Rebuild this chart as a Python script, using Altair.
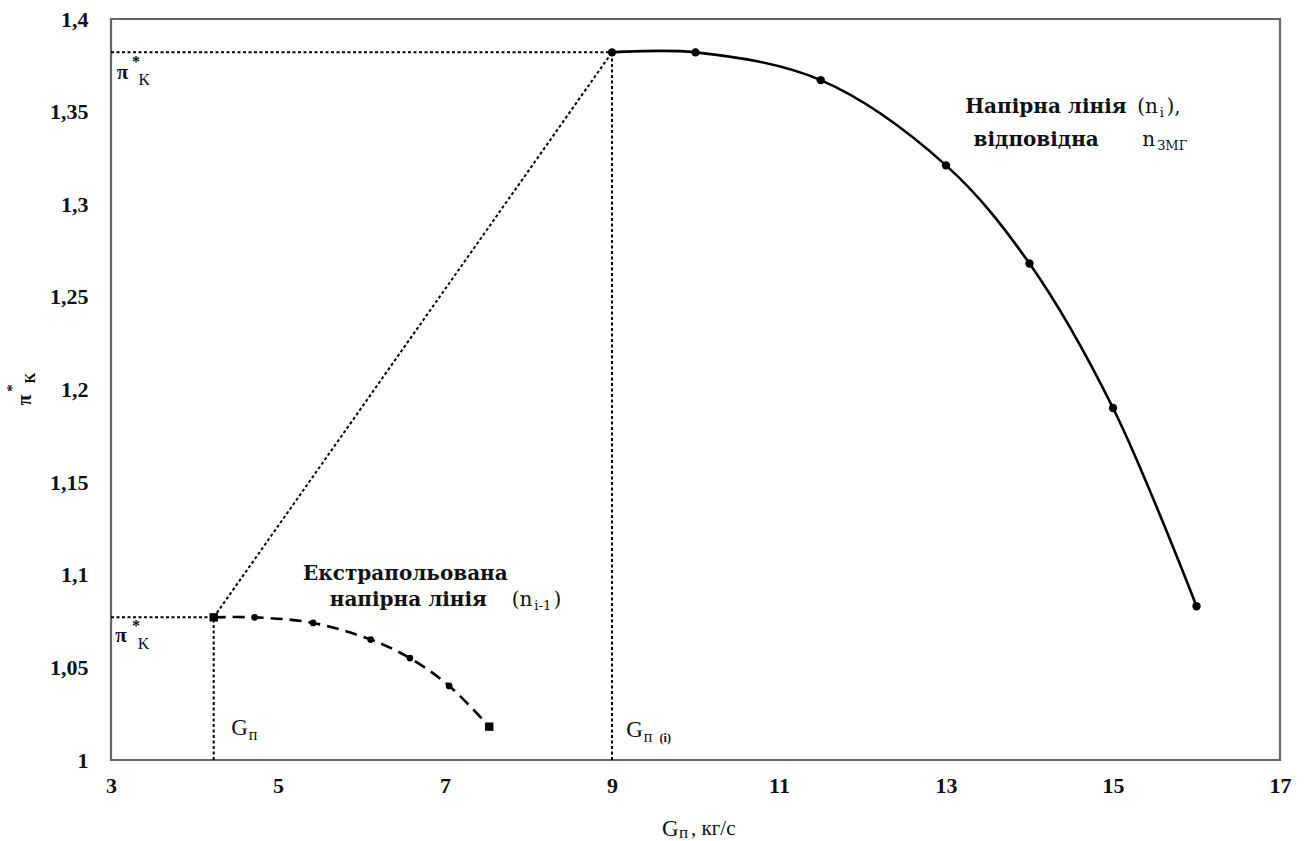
import altair as alt
import pandas as pd

# Pressure line for the current speed n_i (solid)
g_main = [9.0, 10.0, 11.5, 13.0, 14.0, 15.0, 16.0]
pi_main = [1.382, 1.382, 1.367, 1.321, 1.268, 1.190, 1.083]

# Extrapolated pressure line for the previous speed n_{i-1} (dashed)
g_extra = [4.23, 4.72, 5.42, 6.11, 6.58, 7.05, 7.53]
pi_extra = [1.077, 1.077, 1.074, 1.065, 1.055, 1.040, 1.018]

x_ticks = [3, 5, 7, 9, 11, 13, 15, 17]
y_ticks = [1.0, 1.05, 1.1, 1.15, 1.2, 1.25, 1.3, 1.35, 1.4]
x_domain = [3, 17]
y_domain = [1.0, 1.4]

SERIF = "DejaVu Serif"
TICK_FONT = "Liberation Serif"

x_scale = alt.Scale(domain=x_domain, nice=False, zero=False)
y_scale = alt.Scale(domain=y_domain, nice=False, zero=False)

main_df = pd.DataFrame({"g": g_main, "pi": pi_main})
extra_df = pd.DataFrame({"g": g_extra, "pi": pi_extra})

x_enc = alt.X(
    "g:Q", scale=x_scale,
    axis=alt.Axis(values=x_ticks, title="", grid=False, ticks=False, domain=False,
                  format="d",
                  labelFont=TICK_FONT, labelFontSize=22, labelFontWeight="bold",
                  labelColor="#111", labelPadding=15, labelFlush=False),
)
y_enc = alt.Y(
    "pi:Q", scale=y_scale,
    axis=alt.Axis(values=y_ticks, title="", grid=False, ticks=False, domain=False,
                  labelFont=TICK_FONT, labelFontSize=22, labelFontWeight="bold",
                  labelColor="#111", labelPadding=23, labelFlush=False,
                  labelExpr="replace(format(datum.value, '.2~f'), '.', ',')"),
)

main_line = alt.Chart(main_df).mark_line(
    color="black", strokeWidth=2.6, interpolate="catmull-rom"
).encode(x=x_enc, y=y_enc)
main_pts = alt.Chart(main_df).mark_circle(color="black", size=70, opacity=1).encode(
    x="g:Q", y="pi:Q")

extra_line = alt.Chart(extra_df).mark_line(
    color="black", strokeWidth=2.6, strokeDash=[12, 7], interpolate="catmull-rom"
).encode(x="g:Q", y="pi:Q")
extra_mid = alt.Chart(extra_df.iloc[1:-1]).mark_circle(color="black", size=45, opacity=1).encode(
    x="g:Q", y="pi:Q")
extra_ends = alt.Chart(extra_df.iloc[[0, -1]]).mark_square(color="black", size=70, opacity=1).encode(
    x="g:Q", y="pi:Q")

# Dotted construction lines between the two operating points
guides = pd.DataFrame({
    "g": [x_domain[0], g_main[0], x_domain[0], g_extra[0], g_extra[0]],
    "pi": [pi_main[0], y_domain[0], pi_extra[0], y_domain[0], pi_extra[0]],
    "g2": [g_main[0], g_main[0], g_extra[0], g_extra[0], g_main[0]],
    "pi2": [pi_main[0], pi_main[0], pi_extra[0], pi_extra[0], pi_main[0]],
})
guide_rules = alt.Chart(guides).mark_rule(
    color="black", strokeWidth=2, strokeDash=[3, 2.5]
).encode(x="g:Q", y="pi:Q", x2="g2:Q", y2="pi2:Q")


def label(text, x, y, size, font=SERIF, weight="bold", align="left"):
    df = pd.DataFrame({"g": [x], "pi": [y], "t": [text]})
    return alt.Chart(df).mark_text(
        font=font, fontSize=size, fontWeight=weight, align=align,
        baseline="middle", color="#111"
    ).encode(x="g:Q", y="pi:Q", text="t:N")


def px_label(text, x, y, size, font=SERIF, angle=0, align="center", weight="normal"):
    df = pd.DataFrame({"t": [text]})
    return alt.Chart(df).mark_text(
        font=font, fontSize=size, fontWeight=weight, align=align,
        baseline="middle", color="#111", angle=angle
    ).encode(x=alt.value(x), y=alt.value(y), text="t:N")


annotations = [
    # π*к at the upper level
    label("π", 3.07, 1.3709, 21, font=TICK_FONT),
    label("*", 3.25, 1.3768, 16, font=TICK_FONT),
    label("K", 3.33, 1.3671, 16, font=TICK_FONT, weight="normal"),
    # π*к at the lower level
    label("π", 3.05, 1.0669, 21, font=TICK_FONT),
    label("*", 3.25, 1.0723, 16, font=TICK_FONT),
    label("K", 3.32, 1.0626, 16, font=TICK_FONT, weight="normal"),
    # Gп marks on the abscissa
    label("G", 4.44, 1.0173, 23, font=TICK_FONT, weight="normal"),
    label("п", 4.65, 1.0135, 16, font=TICK_FONT, weight="normal"),
    label("G", 9.17, 1.0162, 23, font=TICK_FONT, weight="normal"),
    label("п", 9.38, 1.0124, 16, font=TICK_FONT, weight="normal"),
    label("(i)", 9.57, 1.0118, 12, font=TICK_FONT),
    # extrapolated line caption
    label("Екстрапольована", 5.30, 1.1005, 20),
    label("напірна лінія", 5.62, 1.0865, 20),
    label("(n", 7.80, 1.0865, 20, weight="normal"),
    label("i-1", 8.07, 1.0833, 13, weight="normal"),
    label(")", 8.30, 1.0865, 20, weight="normal"),
    # main line caption
    label("Напірна лінія", 13.23, 1.3525, 20),
    label("(n", 15.29, 1.3525, 20, weight="normal"),
    label("i", 15.56, 1.3493, 13, weight="normal"),
    label("),", 15.64, 1.3525, 20, weight="normal"),
    label("відповідна", 13.33, 1.3347, 20),
    label("n", 15.35, 1.3347, 20, weight="normal"),
    label("ЗМГ", 15.53, 1.3315, 13, weight="normal"),
]

# Axis titles with super/subscripts
titles = [
    px_label("π", -86, 381, 20, font=TICK_FONT, angle=270, weight="bold"),
    px_label("*", -99, 369, 15, font=TICK_FONT, angle=270, weight="bold"),
    px_label("K", -80, 359, 14, font=TICK_FONT, angle=270, weight="bold"),
    px_label("G", 551, 810, 23, font=TICK_FONT, align="left"),
    px_label("п", 568, 814, 17, font=TICK_FONT, align="left"),
    px_label(", кг/с", 580, 810, 21, font=TICK_FONT, align="left"),
]

chart = alt.layer(
    guide_rules, main_line, main_pts, extra_line, extra_mid, extra_ends,
    *annotations, *titles
).properties(
    width=1169, height=741,
    autosize=alt.AutoSizeParams(type="none"),
    padding={"left": 111, "top": 19, "right": 28, "bottom": 81},
    background="white",
).configure_view(
    stroke="#666", strokeWidth=2.2
)

chart.save("out.html", embed_options={"renderer": "svg", "actions": False})
